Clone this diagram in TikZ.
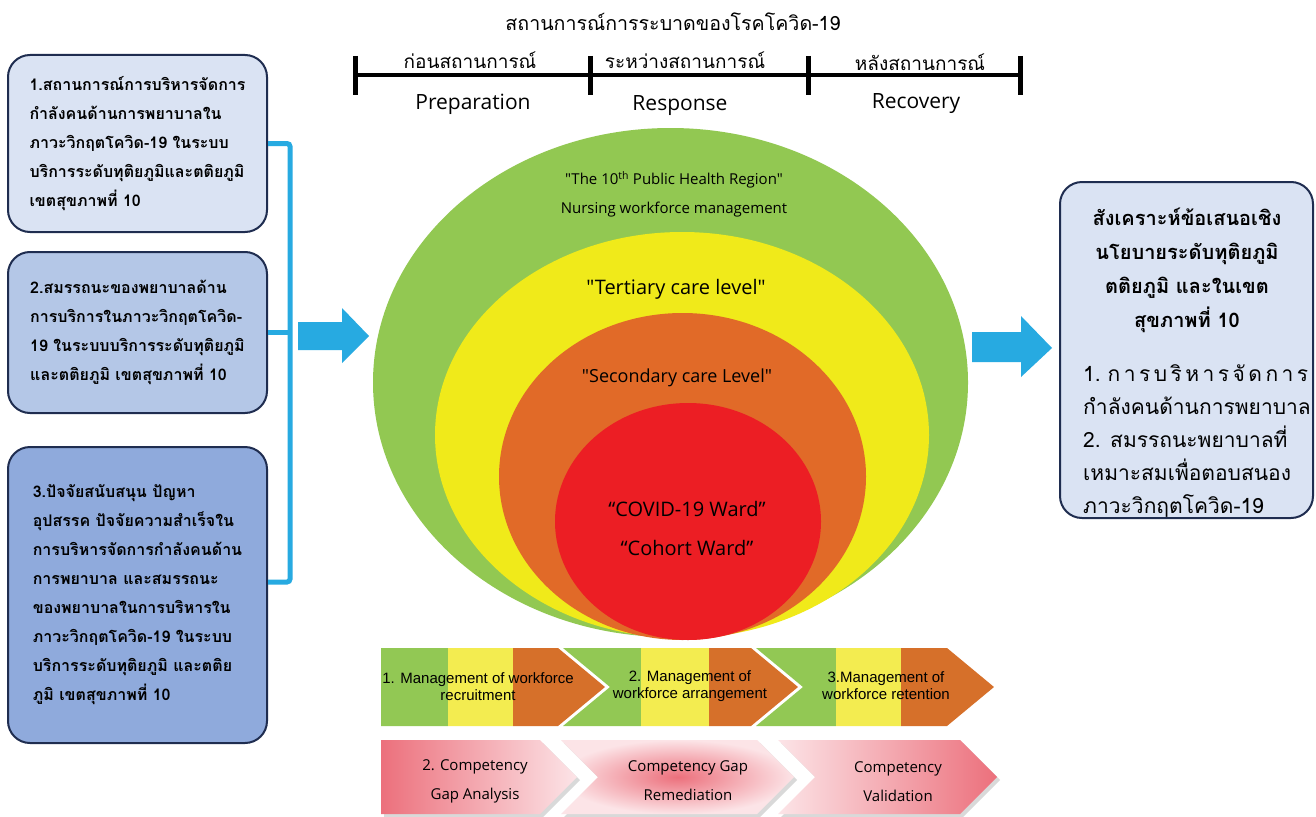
\documentclass[tikz,border=0pt]{standalone}
\usepackage{fontspec}
\setmainfont{Loma}[Script=Thai]
\newfontfamily\enfont{Open Sans}
\newfontfamily\arfont{Liberation Sans}
\usetikzlibrary{positioning}

\definecolor{cyanblue}{RGB}{39,170,225}
\definecolor{navy}{RGB}{31,45,80}
\definecolor{boxa}{RGB}{218,227,243}
\definecolor{boxb}{RGB}{180,199,231}
\definecolor{boxc}{RGB}{143,170,220}
\definecolor{cgreen}{RGB}{146,200,82}
\definecolor{cyellow}{RGB}{240,234,26}
\definecolor{corange}{RGB}{225,106,40}
\definecolor{cred}{RGB}{236,30,36}
\definecolor{pgreen}{RGB}{146,200,84}
\definecolor{pyellow}{RGB}{243,236,80}
\definecolor{porange}{RGB}{214,112,42}
\definecolor{pinkd}{RGB}{236,112,124}
\definecolor{pinkl}{RGB}{252,228,231}

\begin{document}
\begin{tikzpicture}[x=1pt,y=-1pt,
  infobox/.style={draw=navy,line width=2pt,rounded corners=22pt,minimum width=259pt,align=left,
    font=\bfseries\fontsize{16}{29}\selectfont},
  brk/.style={draw=cyanblue,line width=5pt,rounded corners=3pt},
  thl/.style={font=\fontsize{19}{24}\selectfont},
  enl/.style={font=\enfont\fontsize{21}{24}\selectfont},
  ring/.style={font=\enfont\fontsize{15}{18}\selectfont},
  proc/.style={font=\arfont\fontsize{15}{17}\selectfont,align=center},
  comp/.style={font=\enfont\fontsize{15}{29}\selectfont,align=center}]

\fill[white] (0,0) rectangle (1316,816);
\useasboundingbox (0,0) rectangle (1316,816);

% timeline
\node[font=\fontsize{19.6}{24}\selectfont] (ttl) at (673,22) {สถานการณ์การระบาดของโรคโควิด-19};
\draw[line width=4pt] (355,75) -- (1020,75);
\foreach \x in {355,590,808,1020}
  \draw[line width=5pt] (\x,56) -- (\x,95);
\node[thl] (pre) at (470,60) {ก่อนสถานการณ์};
\node[thl] (dur) at (685,60) {ระหว่างสถานการณ์};
\node[thl] (post) at (920,62) {หลังสถานการณ์};
\node[enl] (prep) at (473,104) {Preparation};
\node[enl] (resp) at (680,106) {Response};
\node[enl] (reco) at (916,104) {Recovery};

% left boxes
\node[infobox,fill=boxa,minimum height=177pt] (b1) at (137.5,143.5)
  {1.สถานการณ์การบริหารจัดการ\\กำลังคนด้านการพยาบาลใน\\ภาวะวิกฤตโควิด-19 ในระบบ\\บริการระดับทุติยภูมิและตติยภูมิ\\เขตสุขภาพที่ 10};
\node[infobox,fill=boxb,minimum height=161pt] (b2) at (137.5,332.5)
  {2.สมรรถนะของพยาบาลด้าน\\การบริการในภาวะวิกฤตโควิด-\\19 ในระบบบริการระดับทุติยภูมิ\\และตติยภูมิ เขตสุขภาพที่ 10};
\node[infobox,fill=boxc,minimum height=296pt] (b3) at (137.5,595)
  {3.ปัจจัยสนับสนุน ปัญหา\\อุปสรรค ปัจจัยความสำเร็จใน\\การบริหารจัดการกำลังคนด้าน\\การพยาบาล และสมรรถนะ\\ของพยาบาลในการบริหารใน\\ภาวะวิกฤตโควิด-19 ในระบบ\\บริการระดับทุติยภูมิ และตติย\\ภูมิ เขตสุขภาพที่ 10};

\draw[brk] (b1.east) -- ++(22,0) coordinate (k1) |- ([yshift=13pt]b3.east);
\draw[brk] (b2.east) -- (b2.east -| k1);

% block arrows
\fill[cyanblue] (298,322) -- (342,322) -- (342,308) -- (369,336) -- (342,363) -- (342,350) -- (298,350) -- cycle;
\fill[cyanblue] (972,332) -- (1021,332) -- (1021,316) -- (1052,348) -- (1021,377) -- (1021,362) -- (972,362) -- cycle;

% nested levels
\fill[cgreen] (670.5,382.5) ellipse [x radius=297.5pt, y radius=254.5pt];
\fill[cyellow] (682,435) ellipse [x radius=247pt, y radius=203pt];
\fill[corange] (682.5,476.5) ellipse [x radius=183.5pt, y radius=163.5pt];
\fill[cred] (688,521.5) ellipse [x radius=133pt, y radius=118.5pt];

\node[ring] (reg) at (674,180) {"The 10\textsuperscript{th} Public Health Region"};
\node[ring] (nwm) at (674,210) {Nursing workforce management};
\node[ring,font=\enfont\fontsize{20}{24}\selectfont] (tert) at (676,289) {"Tertiary care level"};
\node[ring,font=\enfont\fontsize{18}{22}\selectfont] (sec) at (677,378) {"Secondary care Level"};
\node[ring,font=\enfont\fontsize{20}{24}\selectfont] (cov) at (687,509) {“COVID-19 Ward”};
\node[ring,font=\enfont\fontsize{20}{24}\selectfont] (coh) at (687,548) {“Cohort Ward”};

% right box
\node[draw=navy,line width=2pt,rounded corners=22pt,fill=boxa,minimum width=253pt,minimum height=336pt] (rbox) at (1186.5,350) {};
\node[align=center,font=\bfseries\fontsize{20}{34}\selectfont] (rtit) at (1187,270)
  {สังเคราะห์ข้อเสนอเชิง\\นโยบายระดับทุติยภูมิ\\ตติยภูมิ และในเขต\\สุขภาพที่ 10};
\node[align=left,font=\fontsize{21}{33}\selectfont] (rlist) at (1197,441)
  {\makebox[225pt][l]{1.\hfill\hfill ก\hfill า\hfill ร\hfill บ\hfill ริ\hfill ห\hfill า\hfill ร\hfill จั\hfill ด\hfill ก\hfill า\hfill ร}\\
   กำลังคนด้านการพยาบาล\\2. สมรรถนะพยาบาลที่\\เหมาะสมเพื่อตอบสนอง\\ภาวะวิกฤตโควิด-19};

% management chevrons
\foreach \xa/\xn/\xb/\xg/\xy in {381/381/558/448/513, 563/610/751/641/709, 756/803/947/836/901}{
  \begin{scope}
    \clip (\xa,648) -- (\xn,687) -- (\xa,726) -- (\xb,726) -- (\xb+47,687) -- (\xb,648) -- cycle;
    \fill[pgreen] (\xa,647) rectangle (\xg,727);
    \fill[pyellow] (\xg,647) rectangle (\xy,727);
    \fill[porange] (\xy,647) rectangle (\xb+48,727);
  \end{scope}
}
\node[proc] (m1) at (478,687) {1. Management of workforce\\recruitment};
\node[proc] (m2) at (690,686) {2. Management of\\workforce arrangement};
\node[proc] (m3) at (886,686) {3.Management of\\workforce retention};

% competency chevrons
\foreach \xa/\xn/\xb in {381/381/540, 561/598/757, 778/815/960}
  \fill[black!15] (\xa+3,743) -- (\xn+3,780) -- (\xa+3,817) -- (\xb+3,817) -- (\xb+40,780) -- (\xb+3,743) -- cycle;
\shade[left color=pinkd,right color=pinkl] (381,740) -- (540,740) -- (577,777) -- (540,814) -- (381,814) -- cycle;
\shade[inner color=pinkd,outer color=pinkl] (561,740) -- (757,740) -- (794,777) -- (757,814) -- (561,814) -- (598,777) -- cycle;
\shade[left color=pinkl,right color=pinkd] (778,740) -- (960,740) -- (997,777) -- (960,814) -- (778,814) -- (815,777) -- cycle;
\node[comp] (c1) at (475,781) {2. Competency\\Gap Analysis};
\node[comp] (c2) at (688,781) {Competency Gap\\Remediation};
\node[comp] (c3) at (898,782) {Competency\\Validation};

\end{tikzpicture}
\end{document}
